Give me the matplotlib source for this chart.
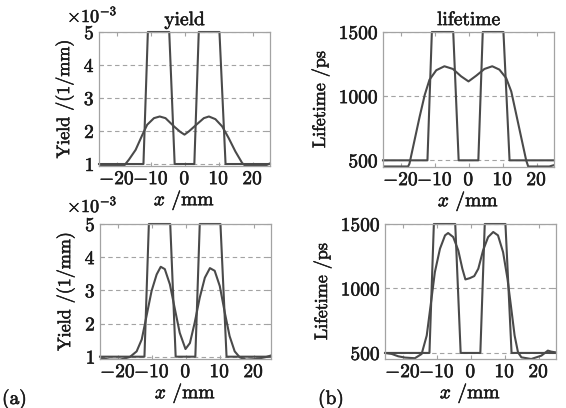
import matplotlib
matplotlib.use("Agg")
import matplotlib.pyplot as plt
import matplotlib.patheffects as pe

plt.rcParams['font.family'] = 'cmr10'
plt.rcParams['mathtext.fontset'] = 'cm'
plt.rcParams['axes.formatter.use_mathtext'] = True

# step profiles (true distribution)
step_x = [-25.3, -12.2, -10.9, -4.6, -3.0, 2.8, 4.1, 10.2, 12.0, 25.1]
step_yield = [1, 1, 5, 5, 1, 1, 5, 5, 1, 1]            # x1e-3 1/mm
step_life = [500, 500, 1500, 1500, 500, 500, 1500, 1500, 500, 500]  # ps

# reconstructed profiles, top row
top_yx = [-25.3, -17.9, -16.5, -14.5, -12.5, -11.1, -9.1, -7.4, -5.7, -3.2, -1.3,
          -0.1, 1.2, 3.6, 5.6, 7.1, 9.0, 11.0, 12.9, 14.9, 16.9, 17.8, 23.7, 24.9]
top_yield = [0.95, 0.95, 1.13, 1.43, 1.89, 2.19, 2.39, 2.44, 2.39, 2.14, 1.97,
             1.89, 1.99, 2.21, 2.39, 2.44, 2.36, 2.14, 1.79, 1.38, 1.03, 0.95, 0.95, 1.01]

top_lx = [-25.3, -17.9, -17.5, -16.0, -14.5, -13.0, -11.6, -9.6, -7.2, -4.7, -2.3,
          -0.1, 2.2, 4.6, 6.9, 9.0, 11.0, 12.5, 13.9, 15.4, 16.9, 17.5, 23.7, 24.9]
top_life = [452, 452, 474, 657, 840, 1010, 1128, 1202, 1233, 1212, 1155,
            1115, 1160, 1212, 1233, 1207, 1141, 1037, 867, 683, 500, 452, 452, 461]

# reconstructed profiles, bottom row
bot_yx = [-25.3, -22.4, -19.4, -16.5, -14.5, -13.0, -11.6, -10.1, -8.6, -7.4, -6.2,
          -4.7, -3.2, -1.8, -0.1, 1.2, 2.6, 4.1, 5.6, 7.1, 8.5, 10.0, 11.5, 12.9,
          14.4, 15.9, 17.8, 20.8, 23.7, 24.9]
bot_yield = [0.96, 0.91, 0.91, 0.99, 1.16, 1.52, 2.22, 2.98, 3.48, 3.71, 3.64,
             3.18, 2.42, 1.72, 1.23, 1.41, 2.02, 2.78, 3.38, 3.67, 3.59, 3.13, 2.32, 1.62,
             1.16, 0.98, 0.91, 0.93, 0.99, 1.03]

bot_lx = [-25.3, -23.3, -21.4, -19.4, -16.5, -14.5, -13.0, -11.6, -10.6, -9.1, -7.6,
          -6.7, -5.2, -3.7, -2.5, -1.6, -0.3, 1.0, 2.2, 3.6, 5.1, 6.6, 8.0, 9.5,
          10.8, 11.8, 12.9, 13.9, 14.9, 17.8, 20.8, 22.7, 23.7, 24.9]
bot_life = [500, 492, 474, 464, 459, 492, 635, 920, 1127, 1308, 1412,
            1430, 1399, 1295, 1153, 1070, 1080, 1096, 1153, 1295, 1399, 1438, 1412, 1282,
            1075, 868, 635, 505, 466, 453, 479, 518, 510, 505]

xticks = [-20, -10, 0, 10, 20]
yield_ticks = [1, 2, 3, 4, 5]
life_ticks = [500, 1000, 1500]

W, H = 566, 408
fig = plt.figure(figsize=(W / 100, H / 100), dpi=100)

lc = '#4a4a4a'
gc = '#a3a3a3'
tc = '#1a1a1a'
bold = [pe.withStroke(linewidth=0.4, foreground=tc)]


def px_axes(l, r, t, b):
    return fig.add_axes([l / W, (H - b) / H, (r - l) / W, (b - t) / H])


def style(ax, ylim, yticks, ylabel, lpad):
    ax.set_xlim(-25.3, 25.1)
    ax.set_ylim(*ylim)
    ax.set_xticks(xticks)
    ax.set_yticks(yticks)
    for y in yticks:
        ax.axhline(y, color=gc, lw=0.8, ls=(0, (4, 3)), zorder=0)
    for s in ax.spines.values():
        s.set_color(gc)
        s.set_linewidth(0.9)
    ax.tick_params(direction='in', top=True, right=True, length=3, color=gc,
                   labelsize=14, pad=3, labelcolor=tc)
    ax.set_ylabel(ylabel, fontsize=13, labelpad=lpad, color=tc)
    ax.set_xlabel('$x$ /mm', fontsize=14, labelpad=0, color=tc)
    for t in ax.get_xticklabels() + ax.get_yticklabels():
        t.set_path_effects(bold)
    ax.xaxis.label.set_path_effects(bold)
    ax.yaxis.label.set_path_effects(bold)


ax1 = px_axes(99, 270, 32, 166)
ax1.plot(step_x, step_yield, color=lc, lw=1.5, clip_on=False)
ax1.plot(top_yx, top_yield, color=lc, lw=1.5)
style(ax1, (0.94, 5.0), yield_ticks, 'Yield /(1/mm)', 7)
ax1.set_title('yield', fontsize=14, pad=5, color=tc, path_effects=bold)

ax2 = px_axes(383, 554, 32, 167)
ax2.plot(step_x, step_life, color=lc, lw=1.5, clip_on=False)
ax2.plot(top_lx, top_life, color=lc, lw=1.5)
style(ax2, (448, 1500), life_ticks, 'Lifetime /ps', 7)
ax2.set_title('lifetime', fontsize=14, pad=5, color=tc, path_effects=bold)

ax3 = px_axes(100, 271, 224, 359)
ax3.plot(step_x, step_yield, color=lc, lw=1.5, clip_on=False)
ax3.plot(bot_yx, bot_yield, color=lc, lw=1.5)
style(ax3, (0.93, 5.0), yield_ticks, 'Yield /(1/mm)', 7)

ax4 = px_axes(385, 556, 224, 359)
ax4.plot(step_x, step_life, color=lc, lw=1.5, clip_on=False)
ax4.plot(bot_lx, bot_life, color=lc, lw=1.5)
style(ax4, (453, 1500), life_ticks, 'Lifetime /ps', 7)

for ytop in (22, 212):
    fig.text(67 / W, 1 - ytop / H, r'$\times 10^{-3}$', fontsize=13,
             va='baseline', color=tc, path_effects=bold)
fig.text(2 / W, 1 - 404 / H, '(a)', fontsize=14, va='baseline', color=tc,
         path_effects=bold)
fig.text(318 / W, 1 - 404 / H, '(b)', fontsize=14, va='baseline', color=tc,
         path_effects=bold)

fig.savefig('out.png', dpi=100)
